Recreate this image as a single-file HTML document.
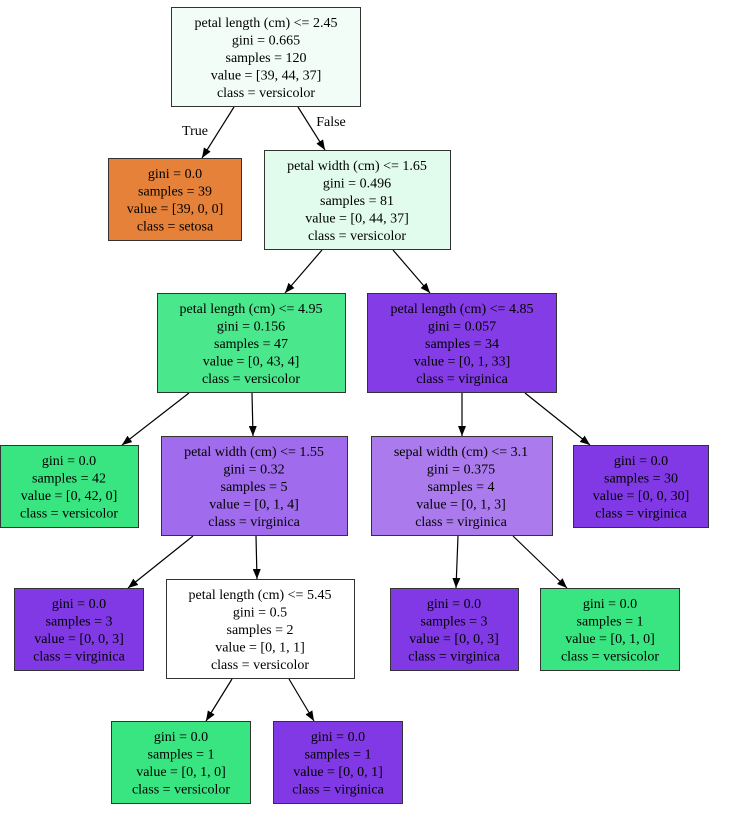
<!DOCTYPE html>
<html><head><meta charset="utf-8"><style>
html,body{margin:0;padding:0;background:#fff;}
svg text{font-family:"Liberation Serif",serif;font-size:14px;text-anchor:middle;fill:#000;}
</style></head><body>
<svg width="731" height="810" viewBox="0 0 731 810" xmlns="http://www.w3.org/2000/svg">
<defs><marker id="a" markerWidth="10" markerHeight="8" refX="10" refY="4" orient="auto" markerUnits="userSpaceOnUse"><polygon points="0,0 10,4 0,8" fill="#000"/></marker></defs>
<g stroke="#000" stroke-width="1.2" fill="none" marker-end="url(#a)">
<line x1="234" y1="107" x2="202" y2="158"/>
<line x1="298" y1="107" x2="325" y2="150"/>
<line x1="322" y1="250" x2="285" y2="293"/>
<line x1="393" y1="250" x2="430" y2="293"/>
<line x1="189" y1="393" x2="122" y2="445"/>
<line x1="252" y1="393" x2="253" y2="436"/>
<line x1="462" y1="393" x2="462" y2="436"/>
<line x1="525" y1="393" x2="590" y2="445"/>
<line x1="193" y1="536" x2="128" y2="588"/>
<line x1="256" y1="536" x2="257" y2="579"/>
<line x1="458" y1="536" x2="456" y2="588"/>
<line x1="513" y1="536" x2="567" y2="588"/>
<line x1="232" y1="679" x2="206" y2="721"/>
<line x1="289" y1="679" x2="314" y2="721"/>
</g>
<text x="195" y="135">True</text>
<text x="331" y="126">False</text>
<g stroke="#333" stroke-width="1">
<rect x="171.5" y="7.5" width="189" height="99" fill="#f1fdf6"/>
<rect x="108.5" y="158.5" width="133" height="82" fill="#e58139"/>
<rect x="264.5" y="150.5" width="186" height="99" fill="#e1fbec"/>
<rect x="157.5" y="293.5" width="188" height="99" fill="#4be78c"/>
<rect x="367.5" y="293.5" width="189" height="99" fill="#843de6"/>
<rect x="0.5" y="445.5" width="138" height="82" fill="#39e581"/>
<rect x="161.5" y="436.5" width="186" height="99" fill="#a06bec"/>
<rect x="371.5" y="436.5" width="181" height="99" fill="#ab7bee"/>
<rect x="573.5" y="445.5" width="135" height="82" fill="#8139e5"/>
<rect x="14.5" y="588.5" width="129" height="82" fill="#8139e5"/>
<rect x="166.5" y="579.5" width="188" height="99" fill="#ffffff"/>
<rect x="390.5" y="588.5" width="128" height="82" fill="#8139e5"/>
<rect x="540.5" y="588.5" width="139" height="82" fill="#39e581"/>
<rect x="111.5" y="721.5" width="139" height="82" fill="#39e581"/>
<rect x="273.5" y="721.5" width="129" height="82" fill="#8139e5"/>
</g>
<text x="266" y="27">petal length (cm) &lt;= 2.45</text><text x="266" y="44.5">gini = 0.665</text><text x="266" y="62">samples = 120</text><text x="266" y="79.5">value = [39, 44, 37]</text><text x="266" y="97">class = versicolor</text>
<text x="175" y="178">gini = 0.0</text><text x="175" y="195.5">samples = 39</text><text x="175" y="213">value = [39, 0, 0]</text><text x="175" y="230.5">class = setosa</text>
<text x="357" y="170">petal width (cm) &lt;= 1.65</text><text x="357" y="187.5">gini = 0.496</text><text x="357" y="205">samples = 81</text><text x="357" y="222.5">value = [0, 44, 37]</text><text x="357" y="240">class = versicolor</text>
<text x="251" y="313">petal length (cm) &lt;= 4.95</text><text x="251" y="330.5">gini = 0.156</text><text x="251" y="348">samples = 47</text><text x="251" y="365.5">value = [0, 43, 4]</text><text x="251" y="383">class = versicolor</text>
<text x="462" y="313">petal length (cm) &lt;= 4.85</text><text x="462" y="330.5">gini = 0.057</text><text x="462" y="348">samples = 34</text><text x="462" y="365.5">value = [0, 1, 33]</text><text x="462" y="383">class = virginica</text>
<text x="69" y="465">gini = 0.0</text><text x="69" y="482.5">samples = 42</text><text x="69" y="500">value = [0, 42, 0]</text><text x="69" y="517.5">class = versicolor</text>
<text x="254" y="456">petal width (cm) &lt;= 1.55</text><text x="254" y="473.5">gini = 0.32</text><text x="254" y="491">samples = 5</text><text x="254" y="508.5">value = [0, 1, 4]</text><text x="254" y="526">class = virginica</text>
<text x="461" y="456">sepal width (cm) &lt;= 3.1</text><text x="461" y="473.5">gini = 0.375</text><text x="461" y="491">samples = 4</text><text x="461" y="508.5">value = [0, 1, 3]</text><text x="461" y="526">class = virginica</text>
<text x="641" y="465">gini = 0.0</text><text x="641" y="482.5">samples = 30</text><text x="641" y="500">value = [0, 0, 30]</text><text x="641" y="517.5">class = virginica</text>
<text x="79" y="608">gini = 0.0</text><text x="79" y="625.5">samples = 3</text><text x="79" y="643">value = [0, 0, 3]</text><text x="79" y="660.5">class = virginica</text>
<text x="260" y="599">petal length (cm) &lt;= 5.45</text><text x="260" y="616.5">gini = 0.5</text><text x="260" y="634">samples = 2</text><text x="260" y="651.5">value = [0, 1, 1]</text><text x="260" y="669">class = versicolor</text>
<text x="454" y="608">gini = 0.0</text><text x="454" y="625.5">samples = 3</text><text x="454" y="643">value = [0, 0, 3]</text><text x="454" y="660.5">class = virginica</text>
<text x="610" y="608">gini = 0.0</text><text x="610" y="625.5">samples = 1</text><text x="610" y="643">value = [0, 1, 0]</text><text x="610" y="660.5">class = versicolor</text>
<text x="181" y="741">gini = 0.0</text><text x="181" y="758.5">samples = 1</text><text x="181" y="776">value = [0, 1, 0]</text><text x="181" y="793.5">class = versicolor</text>
<text x="338" y="741">gini = 0.0</text><text x="338" y="758.5">samples = 1</text><text x="338" y="776">value = [0, 0, 1]</text><text x="338" y="793.5">class = virginica</text>
</svg>
</body></html>
